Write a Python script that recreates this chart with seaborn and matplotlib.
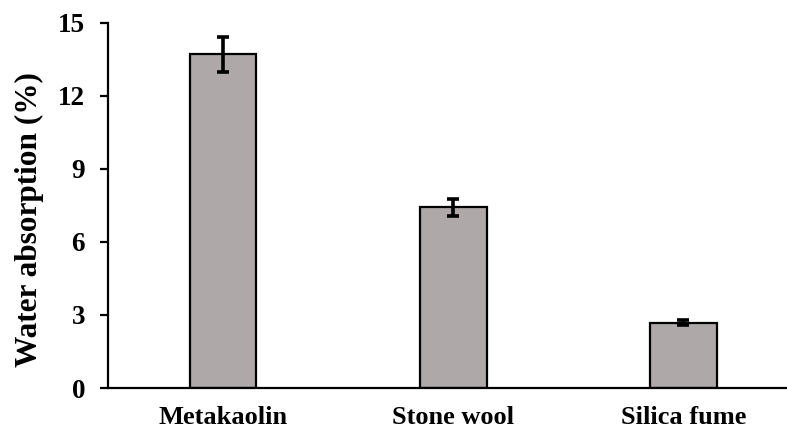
import matplotlib
matplotlib.use("Agg")
import matplotlib.pyplot as plt
import seaborn as sns
import pandas as pd

categories = ["Metakaolin", "Stone wool", "Silica fume"]
values = [13.70, 7.42, 2.68]
errors = [0.71, 0.36, 0.10]
yticks = [0, 3, 6, 9, 12, 15]

sns.set_style("ticks")
plt.rcParams["font.family"] = ["Liberation Serif", "DejaVu Serif"]
plt.rcParams["font.weight"] = "bold"
plt.rcParams["text.color"] = "black"
plt.rcParams["xtick.color"] = "black"
plt.rcParams["ytick.color"] = "black"
plt.rcParams["axes.labelcolor"] = "black"

df = pd.DataFrame({"cat": categories, "val": values, "err": errors})

fig = plt.figure(figsize=(7.87, 4.32), dpi=100)
ax = fig.add_axes([108/787, 1 - 388/432, 1 - 108/787, (388 - 22.7)/432])

sns.barplot(data=df, x="cat", y="val", color="#AEA9A8", saturation=1,
            width=0.29, edgecolor="black", linewidth=1.6, errorbar=None, ax=ax)
ax.errorbar(x=list(range(len(categories))), y=df["val"], yerr=df["err"],
            fmt="none", ecolor="black", elinewidth=2.6, capsize=4.4, capthick=2.6)

ax.set_ylim(0, 15)
ax.set_xlim(-0.5, 2.45)
ax.set_yticks(yticks)
ax.set_yticklabels([str(t) for t in yticks], fontsize=19.5, fontweight="bold")
ax.set_xticks(range(len(categories)))
ax.set_xticklabels(categories, fontsize=19, fontweight="bold")
ax.tick_params(axis="x", length=0, pad=13)
ax.tick_params(axis="y", length=5.5, width=1.6, direction="out", pad=11)
ax.set_xlabel("")
ax.set_ylabel("Water absorption (%)", fontsize=22.5, fontweight="bold")
ax.yaxis.set_label_coords(-0.094, 0.46)
for s in ["top", "right"]:
    ax.spines[s].set_visible(False)
for s in ["left", "bottom"]:
    ax.spines[s].set_linewidth(1.6)
    ax.spines[s].set_color("black")

fig.savefig("out.png", dpi=100)
